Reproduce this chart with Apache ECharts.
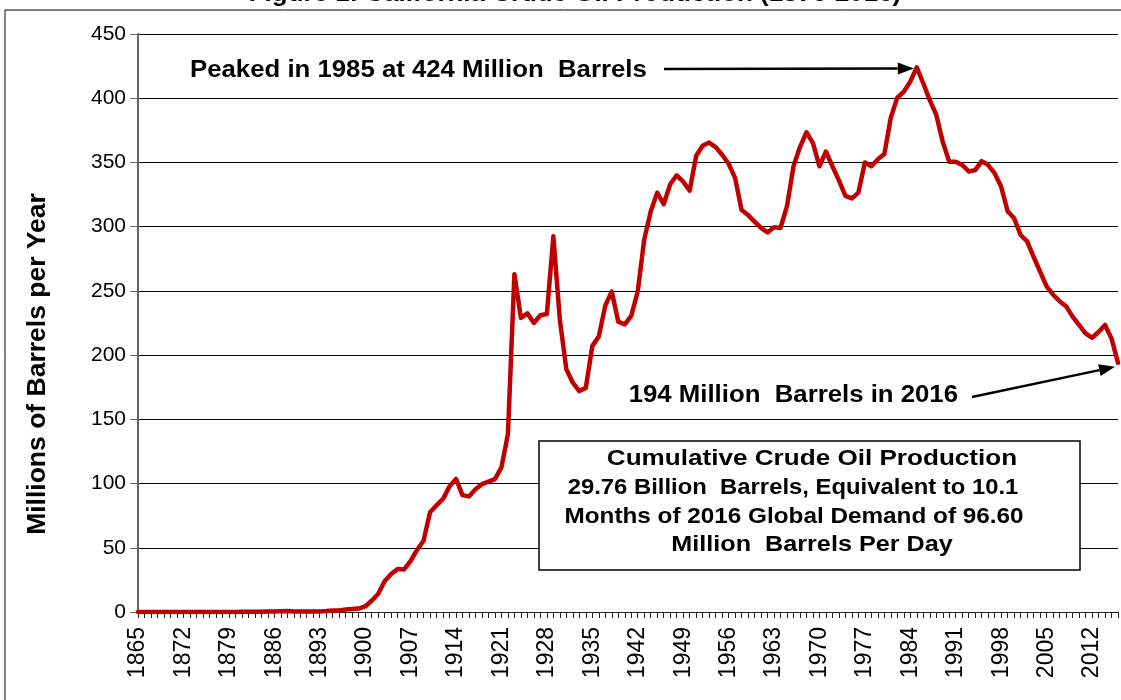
<!DOCTYPE html>
<html>
<head>
<meta charset="utf-8">
<script src="https://cdn.jsdelivr.net/npm/echarts@6/dist/echarts.min.js"></script>
<style>
html,body{margin:0;padding:0;background:#fff;}
#chart{width:1121px;height:700px;}
</style>
</head>
<body>
<div id="chart"></div>
<script>
// Categories: years 1865..2016
const startYear = 1865;
const endYear = 2016;
const years = [];
for (let y = startYear; y <= endYear; y++) years.push(String(y));

// California crude oil production, millions of barrels per year
const production1865to1899 = [
  0, 0, 0, 0, 0, 0, 0, 0, 0, 0, 0,
  0.01, 0.01, 0.02, 0.02, 0.04, 0.1, 0.13, 0.14, 0.26, 0.33,
  0.38, 0.68, 0.69, 0.3, 0.31, 0.32, 0.39, 0.47, 0.71, 1.21,
  1.25, 1.9, 2.26, 2.64
];
const production1900to1939 = [
  4.3, 8.8, 14, 24, 29.6, 33.4, 33.1, 39.7, 48.3, 55.5,
  77.7, 83, 88, 97.8, 103.6, 91, 90, 95.5, 99.5, 101.5,
  103.4, 112.6, 138.5, 263, 229, 232.5, 225, 231, 232, 292.5,
  227.5, 189, 178.5, 172, 174.5, 207, 214.5, 238.5, 249.5, 226
];
const production1940to1979 = [
  224, 230.5, 249.5, 290, 311.8, 326.5, 317.5, 333, 340, 335,
  328, 355, 363, 365.5, 362, 356, 349, 338, 313, 309,
  304, 299, 295.5, 299.5, 299, 316, 347, 362, 373.5, 365,
  347, 358.5, 347, 336, 324, 322, 326.5, 350, 347, 352.5
];
const production1980to2016 = [
  356.5, 385, 400.5, 405, 413, 424, 411.5, 398.5, 387, 366,
  350.5, 350.5, 348, 343, 344, 351, 348, 341.5, 331, 312,
  306.5, 293.5, 288.5, 276.5, 265, 253.5, 247, 242, 238, 230,
  223.5, 217, 213.5, 218, 223.5, 213, 194
];
const production = [].concat(production1865to1899, production1900to1939,
  production1940to1979, production1980to2016);

const yTicks = { min: 0, max: 450, interval: 50 };

const titleText = 'Figure 1: California Crude Oil Production (1876-2016)';
const yAxisTitle = 'Millions of Barrels per Year';
const peakText = 'Peaked in 1985 at 424 Million  Barrels';
const lastText = '194 Million  Barrels in 2016';
const boxLines = [
  'Cumulative Crude Oil Production',
  '29.76 Billion  Barrels, Equivalent to 10.1',
  'Months of 2016 Global Demand of 96.60',
  'Million  Barrels Per Day'
];
const peakYear = '1985';
const lastYear = '2016';

const FONT = '"Liberation Sans", Arial, sans-serif';
const SX = 1.12;
const chart = echarts.init(document.getElementById('chart'), null, {renderer: 'canvas'});

const option = {
  backgroundColor: '#ffffff',
  animation: false,
  grid: { left: 138, right: 3, top: 34, bottom: 88, containLabel: false },
  xAxis: {
    type: 'category',
    data: years,
    boundaryGap: false,
    axisLine: { show: true, lineStyle: { color: '#222', width: 1 } },
    axisTick: { show: true, interval: 0, length: 6, lineStyle: { color: '#222' } },
    axisLabel: {
      interval: 6, rotate: 90, color: '#000', fontFamily: FONT, fontSize: 23, margin: 15
    },
    splitLine: { show: false }
  },
  yAxis: {
    type: 'value',
    min: yTicks.min, max: yTicks.max, interval: yTicks.interval,
    axisLine: { show: true, lineStyle: { color: '#666', width: 2 } },
    axisTick: { show: true, length: 8, lineStyle: { color: '#666' } },
    axisLabel: { color: '#000', fontFamily: FONT, fontSize: 21, margin: 12 },
    splitLine: { show: true, lineStyle: { color: '#000', width: 1 } }
  },
  series: [{
    type: 'line',
    data: production,
    showSymbol: false,
    smooth: false,
    lineStyle: { color: '#C00000', width: 4.5, join: 'round', cap: 'round' },
    z: 5
  }]
};
chart.setOption(option);

function px(idx, val) { return chart.convertToPixel({ gridIndex: 0 }, [idx, val]); }
const peakPt = px(years.indexOf(peakYear), production[years.indexOf(peakYear)]);
const lastPt = px(years.indexOf(lastYear), production[years.indexOf(lastYear)]);

function arrow(x1, y1, x2, y2) {
  const ang = Math.atan2(y2 - y1, x2 - x1);
  const L = 16, W = 6;
  const bx = x2 - L * Math.cos(ang), by = y2 - L * Math.sin(ang);
  const nx = -Math.sin(ang), ny = Math.cos(ang);
  return [
    { type: 'line', shape: { x1: x1, y1: y1, x2: bx, y2: by }, style: { stroke: '#000', lineWidth: 2.5 }, z: 20 },
    { type: 'polygon', shape: { points: [[x2, y2], [bx + nx * W, by + ny * W], [bx - nx * W, by - ny * W]] }, style: { fill: '#000' }, z: 20 }
  ];
}

function btext(t, x, y, align, size, sx) {
  return { type: 'text', x: x, y: y, scaleX: sx, style: { text: t, font: 'bold ' + size + 'px ' + FONT, fill: '#000', textAlign: align, textVerticalAlign: 'middle' }, z: 20 };
}

const graphics = [
  { type: 'rect', shape: { x: 5, y: 10, width: 1200, height: 800 }, style: { fill: null, stroke: '#000', lineWidth: 1 }, z: 1, silent: true },
  { type: 'text', x: 575, y: 6, scaleX: 1.08, style: { text: titleText, font: 'bold 24px ' + FONT, fill: '#000', textAlign: 'center', textVerticalAlign: 'bottom' }, z: 20 },
  { type: 'text', x: 38, y: 364, rotation: Math.PI / 2, style: { text: yAxisTitle, font: 'bold 26.5px ' + FONT, fill: '#000', textAlign: 'center', textVerticalAlign: 'middle' }, z: 20 },
  btext(peakText, 190, 71, 'left', 23, SX),
  btext(lastText, 958, 396, 'right', 23, SX),
  { type: 'rect', shape: { x: 539, y: 441, width: 541, height: 129 }, style: { fill: '#fff', stroke: '#000', lineWidth: 1.5 }, z: 15 }
];
const boxCenters = [812, 793, 794, 812];
const boxScale = [1.16, 1.06, 1.08, 1.12];
boxLines.forEach(function (t, i) {
  graphics.push(btext(t, boxCenters[i], 459 + i * 28.7, 'center', 22.5, boxScale[i]));
});
arrow(664, 69, peakPt[0] - 3, peakPt[1] + 1).forEach(function (g) { graphics.push(g); });
arrow(972, 397, lastPt[0] - 3, lastPt[1] + 4).forEach(function (g) { graphics.push(g); });

chart.setOption({ graphic: graphics });
</script>
</body>
</html>
